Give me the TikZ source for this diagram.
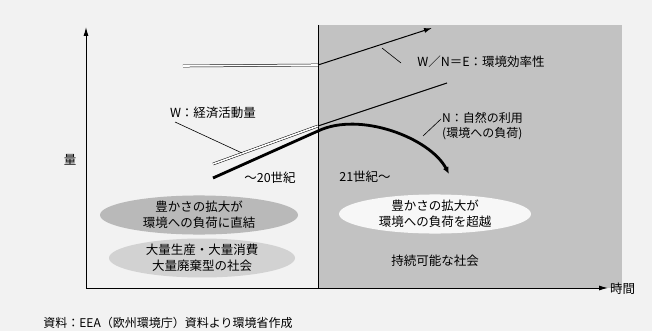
\documentclass[tikz,border=0pt]{standalone}
\usepackage{fontspec}
\setmainfont{Noto Sans CJK JP}
\usetikzlibrary{arrows.meta,shapes.geometric}
\begin{document}
\begin{tikzpicture}[x=1pt,y=-1pt,
  lbl/.style={font=\fontsize{12.5}{16}\selectfont, inner sep=1pt},
  ell/.style={ellipse, inner sep=0pt, font=\fontsize{12.5}{16}\selectfont, align=center},
  axis/.style={line width=1pt, -{Latex[length=9pt,width=5pt]}},
  leader/.style={line width=0.6pt},
  dbl/.style={double=white, double distance=1.6pt, line width=0.5pt}
]
\path[use as bounding box, fill=gray!10] (0,0) rectangle (652,331);
% shaded 21st-century region
\fill[gray!48] (318,25) rectangle (622,288);
\draw[line width=0.8pt] (318,25) -- (318,288);

% ellipses
\node[ell, fill=gray!55, minimum width=198pt, minimum height=35pt] (e1) at (199,215) {豊かさの拡大が\\環境への負荷に直結};
\node[ell, fill=gray!35, minimum width=186pt, minimum height=34pt] (e2) at (202,258) {大量生産・大量消費\\大量廃棄型の社会};
\node[ell, fill=gray!6, minimum width=192pt, minimum height=36pt] (e3) at (435,214) {豊かさの拡大が\\環境への負荷を超越};
\node[lbl] (sus) at (435,261) {持続可能な社会};

% axes
\coordinate (o) at (86,288);
\coordinate (ytop) at (86,27);
\coordinate (xend) at (608,288);
\draw[axis] (o) -- (ytop);
\draw[axis] (o) -- (xend);
\node[lbl] (ylab) at (70,160) {量};
\node[lbl, anchor=west] (xlab) at (609,289) {時間};

% efficiency line
\coordinate (ea) at (183,66);
\coordinate (eb) at (318,65);
\coordinate (ec) at (432,28);
\draw[dbl] (ea) -- (eb);
\draw[line width=1pt, -{Latex[length=8pt,width=5pt]}] (eb) -- (ec);

% W line
\coordinate (wa) at (213,164);
\coordinate (wb) at (318,126);
\coordinate (wc) at (447,83);
\draw[dbl] (wa) -- (wb);
\draw[line width=1.1pt] (wb) -- (wc);

% N curve
\coordinate (na) at (213,178);
\coordinate (nb) at (318,131);
\coordinate (nc) at (449,174);
\draw[line width=2.8pt, -{Latex[length=7pt,width=6pt]}] (na) -- (nb) .. controls (360,111) and (430,138) .. (nc);

% labels and leaders
\node[lbl] (wlab) at (213,113) {W：経済活動量};
\coordinate (wl1) at (175,122);
\coordinate (wl2) at (242,153);
\draw[leader] (wl1) -- (wl2);

\node[lbl] (elab) at (481,62) {W／N＝E：環境効率性};
\coordinate (el1) at (382,48);
\coordinate (el2) at (401,63);
\draw[leader] (el1) -- (el2);

\node[lbl, anchor=west, align=left, font=\fontsize{12}{14.5}\selectfont] (nlab) at (441,126) {N：自然の利用\\(環境への負荷)};
\coordinate (nl1) at (423,136);
\coordinate (nl2) at (441,119);
\draw[leader] (nl1) -- (nl2);

\node[lbl] (c20) at (270,178) {～20世紀};
\node[lbl] (c21) at (365,177) {21世紀～};

\node[lbl, font=\fontsize{12}{14}\selectfont] (src) at (168,323) {資料：EEA（欧州環境庁）資料より環境省作成};
\end{tikzpicture}
\end{document}
